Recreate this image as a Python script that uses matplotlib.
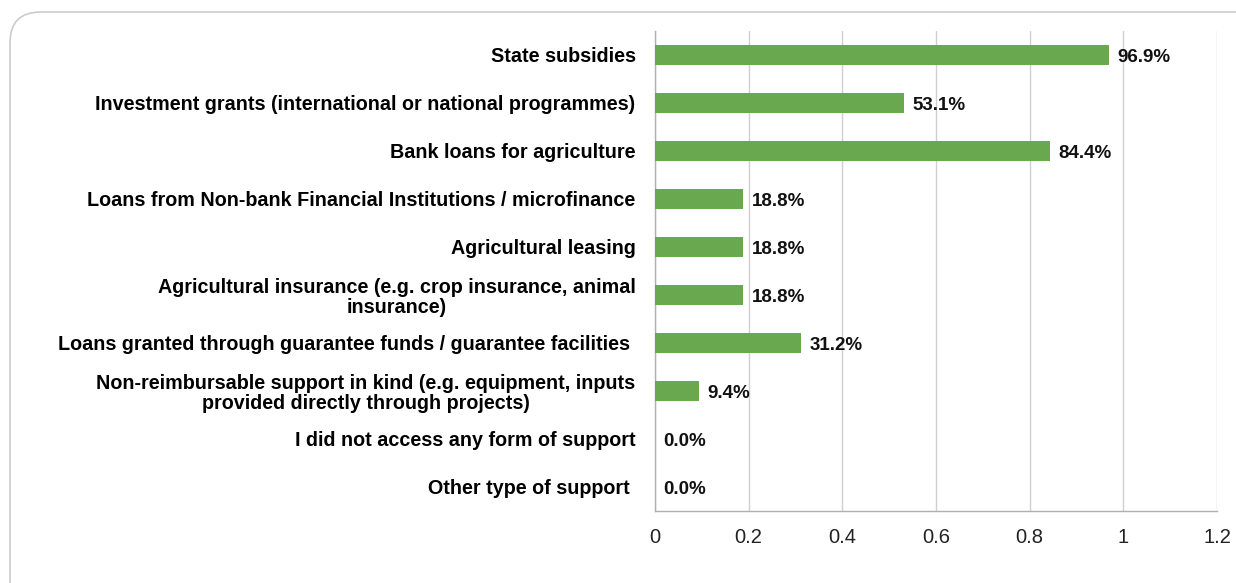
import matplotlib.pyplot as plt
from matplotlib.patches import FancyBboxPatch

categories = [
    "State subsidies",
    "Investment grants (international or national programmes)",
    "Bank loans for agriculture",
    "Loans from Non-bank Financial Institutions / microfinance",
    "Agricultural leasing",
    "Agricultural insurance (e.g. crop insurance, animal\ninsurance)",
    "Loans granted through guarantee funds / guarantee facilities ",
    "Non-reimbursable support in kind (e.g. equipment, inputs\nprovided directly through projects)",
    "I did not access any form of support",
    "Other type of support ",
]
shares = [0.969, 0.531, 0.844, 0.188, 0.188, 0.188, 0.312, 0.094, 0.0, 0.0]
ticks = [0, 0.2, 0.4, 0.6, 0.8, 1.0, 1.2]
tick_labels = ["0", "0.2", "0.4", "0.6", "0.8", "1", "1.2"]

plt.rcParams['font.family'] = ['Liberation Sans', 'DejaVu Sans']

fig = plt.figure(figsize=(12.36, 5.83), dpi=100)
ax = fig.add_axes([655 / 1236, 1 - 511 / 583, (1217 - 655) / 1236, 480 / 583])

# outer chart frame, only top and left edges fall inside the image
frame = FancyBboxPatch((10 / 1236, -0.2), 1.2, (583 - 12) / 583 + 0.2,
                       boxstyle="round,pad=0,rounding_size=0.025",
                       transform=fig.transFigure, facecolor='none',
                       edgecolor='#cccccc', linewidth=1.2, mutation_aspect=2.1)
fig.patches.append(frame)

ypos = list(range(len(categories)))
ax.barh(ypos, shares, height=0.42, color='#6aa84f', zorder=3)
for y, v in zip(ypos, shares):
    ax.text(v + 0.018, y + 0.05, f"{v * 100:.1f}%", va='center', ha='left',
            fontsize=13.5, fontweight='bold', color='#111111', zorder=4)

ax.set_ylim(len(categories) - 0.5, -0.5)
ax.set_xlim(0, 1.2)
ax.set_yticks(ypos)
ax.set_yticklabels(categories, fontsize=14.2, fontweight='bold', ha='right',
                   multialignment='center', linespacing=1.05)
ax.set_xticks(ticks)
ax.set_xticklabels(tick_labels, fontsize=14.5, color='#222222')
ax.tick_params(axis='y', length=0, pad=14)
ax.tick_params(axis='x', length=0, pad=12)

ax.grid(axis='x', color='#cfcfcf', linewidth=1, zorder=0)
for side in ['top', 'right']:
    ax.spines[side].set_visible(False)
for side in ['left', 'bottom']:
    ax.spines[side].set_color('#b0b0b0')
    ax.spines[side].set_linewidth(1)

fig.savefig("out.png", dpi=100)
